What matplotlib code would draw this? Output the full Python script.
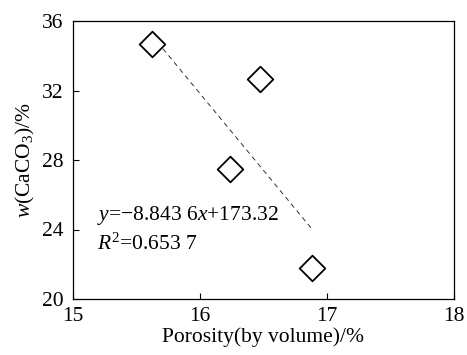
import matplotlib.pyplot as plt
import numpy as np

plt.rcParams["font.family"] = ["Liberation Serif", "DejaVu Serif"]
plt.rcParams["mathtext.fontset"] = "custom"
plt.rcParams["mathtext.rm"] = "Liberation Serif"
plt.rcParams["mathtext.it"] = "Liberation Serif:italic"

porosity = [15.62, 16.47, 16.24, 16.88]
caco3 = [34.7, 32.65, 27.5, 21.8]
slope = -8.8436
intercept = 173.32

fig = plt.figure(figsize=(4.67, 3.55), dpi=100)
ax = fig.add_axes([73 / 467, 56 / 355, 381 / 467, 278 / 355])

xfit = np.array([min(porosity), max(porosity)])
ax.plot(xfit, slope * xfit + intercept, color="#333333", lw=0.7,
        linestyle=(0, (5, 4)))
ax.scatter(porosity, caco3, marker="D", s=170, facecolors="white",
           edgecolors="black", linewidths=1.3, zorder=3)

ax.set_xlim(15, 18)
ax.set_ylim(20, 36)
ax.set_xticks([15, 16, 17, 18])
ax.set_yticks([20, 24, 28, 32, 36])
ax.tick_params(direction="in", length=4, labelsize=15.5, width=0.8)
ax.tick_params(axis="x", pad=6)
ax.tick_params(axis="y", pad=7)
for s in ax.spines.values():
    s.set_linewidth(0.9)

ax.set_xlabel("Porosity(by volume)/%", fontsize=15.5, labelpad=1)
ax.set_ylabel(r"$\mathit{w}$(CaCO$_3$)/%", fontsize=15.5, labelpad=3)

ax.text(15.19, 24.55, r"$\mathit{y}$=$-$8.843 6$\mathit{x}$+173.32", fontsize=15.5)
ax.text(15.19, 22.85, r"$\mathit{R}^2$=0.653 7", fontsize=15.5)

plt.savefig("out.png", dpi=100)
